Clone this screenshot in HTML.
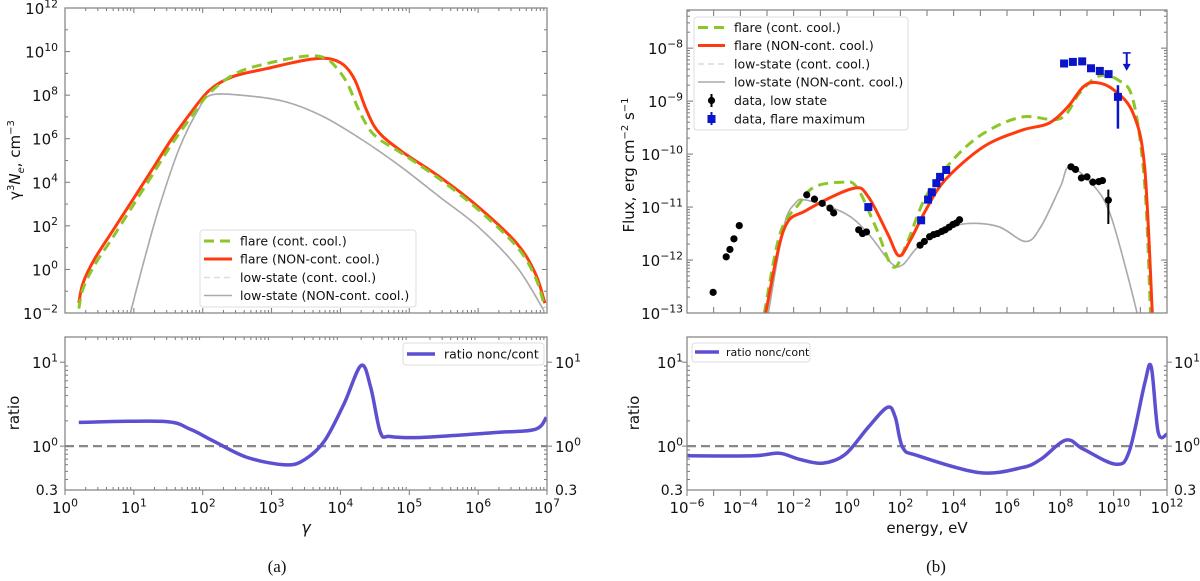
<!DOCTYPE html>
<html><head><meta charset="utf-8">
<style>
html,body{margin:0;padding:0;background:#fff;}
svg{display:block;font-family:"DejaVu Sans","Liberation Sans",sans-serif;}
</style></head>
<body>
<svg id="fig" width="1200" height="581" viewBox="0 0 1200 581" xmlns="http://www.w3.org/2000/svg">
<defs>
<clipPath id="cLT"><rect x="65" y="8" width="482" height="305"/></clipPath>
<clipPath id="cLB"><rect x="65" y="337" width="482" height="153"/></clipPath>
<clipPath id="cRT"><rect x="687" y="10" width="480" height="303"/></clipPath>
<clipPath id="cRB"><rect x="687" y="337" width="480" height="153"/></clipPath>
</defs>
<g id="layer"></g>
</svg>
<script>
// ---------- DATA (log10 values) ----------
// Left top: electron spectra, x = log10(gamma), y = log10(gamma^3 Ne)
const ltRedX = [0.2,0.26,0.42,0.70,0.98,1.26,1.54,1.82,2.1,2.43,2.93,3.49,3.82,4.05,4.21,4.38,4.55,4.88,5.44,6.0,6.56,6.83,6.97];
const ltRedY = [-1.55,-0.64,0.43,1.81,3.18,4.56,5.94,7.16,8.23,8.84,9.22,9.61,9.68,9.38,8.69,7.3,6.32,5.44,4.25,2.88,1.2,-0.18,-1.55];
const ltGreenX = [0.2,0.26,0.42,0.70,0.98,1.26,1.54,1.82,2.1,2.48,2.93,3.49,3.77,3.93,4.1,4.27,4.43,4.6,4.88,5.44,6.0,6.56,6.83,6.97];
const ltGreenY = [-1.8,-0.9,0.15,1.5,2.9,4.3,5.7,6.95,8.1,9.0,9.45,9.79,9.72,9.3,8.54,7.3,6.39,5.9,5.35,4.15,2.75,1.05,-0.35,-1.75];
const ltGrayX = [0.95,1.15,1.37,1.65,1.93,2.12,2.65,3.21,3.76,4.32,4.88,5.44,6.0,6.56,6.95];
const ltGrayY = [-2,0.43,2.88,5.48,7.3,8.0,7.97,7.69,7.0,5.94,4.71,3.33,1.96,0.12,-1.86];
// Left bottom: ratio, y = log10(ratio)
const lbX = [0.2,1.43,1.82,2.15,2.65,3.21,3.49,3.77,4.05,4.30,4.44,4.58,4.72,5.16,6.28,6.83,6.99];
const lbY = [0.283,0.294,0.2,0.063,-0.136,-0.224,-0.156,0.063,0.5,0.96,0.70,0.163,0.115,0.103,0.163,0.2,0.342];
// Right top: SED, x = log10(E/eV), y = log10(flux)
const rtRedX = [-3.05,-2.37,-1.51,0.22,0.79,1.52,1.95,2.38,2.95,3.68,5.12,6.56,7.56,8.28,8.86,9.36,10.01,10.73,11.16,11.45];
const rtRedY = [-13,-11.43,-11.06,-10.65,-10.80,-11.5,-11.92,-11.62,-11.06,-10.49,-9.86,-9.55,-9.42,-9.11,-8.73,-8.65,-8.79,-9.23,-10.24,-13];
const rtGreenX = [-3.1,-2.51,-1.8,-1.22,-0.21,0.36,1.08,1.73,2.24,2.95,3.97,5.12,6.56,8.0,8.72,9.44,10.16,10.73,11.16,11.38];
const rtGreenY = [-13,-11.5,-10.94,-10.62,-10.53,-10.62,-11.38,-12.13,-11.69,-10.81,-10.11,-9.61,-9.3,-9.33,-8.85,-8.53,-8.6,-8.98,-10.55,-13];
const rtGrayX = [-2.95,-2.37,-1.94,-1.51,-0.07,0.79,1.66,2.09,2.67,3.68,4.54,5.69,6.7,7.27,8.0,8.36,9.29,9.86,10.44,10.88];
const rtGrayY = [-13,-11.37,-10.93,-10.87,-11.12,-11.5,-12.06,-12.09,-11.75,-11.43,-11.31,-11.37,-11.65,-11.37,-10.62,-10.24,-10.62,-11.12,-12.13,-13];
const lowDataX = [-5.02,-4.53,-4.39,-4.24,-4.04,-1.51,-1.22,-0.93,-0.64,-0.50,0.44,0.58,0.73,2.74,2.9,3.1,3.25,3.39,3.55,3.68,3.83,3.97,4.1,4.22,8.4,8.57,8.79,9.0,9.22,9.44,9.58];
const lowDataY = [-12.61,-11.94,-11.80,-11.60,-11.35,-10.77,-10.85,-10.93,-11.02,-11.11,-11.43,-11.5,-11.47,-11.72,-11.65,-11.56,-11.52,-11.5,-11.46,-11.43,-11.38,-11.33,-11.3,-11.24,-10.24,-10.29,-10.45,-10.43,-10.53,-10.52,-10.5];
const lowErrX = [9.8];
const lowErrY = [-10.87];
const lowErrLo = [-11.32];
const lowErrHi = [-10.67];
const flareDataX = [0.8,2.78,3.04,3.18,3.35,3.49,3.72,8.14,8.47,8.82,9.15,9.48,9.81];
const flareDataY = [-11.0,-11.25,-10.86,-10.72,-10.55,-10.43,-10.3,-8.29,-8.26,-8.25,-8.38,-8.43,-8.49];
const flareErrX = [10.16];
const flareErrY = [-8.92];
const flareErrLo = [-9.52];
const flareErrHi = [-8.70];
const ulX = [10.49];
const ulY = [-8.09];
// Right bottom ratio
const rbX = [-6,-3.52,-2.54,-1.8,-0.93,-0.07,0.79,1.52,1.81,2.09,2.67,4.97,6.56,7.27,8.21,8.86,10.08,10.59,11.16,11.41,11.67,12.0];
const rbY = [-0.116,-0.116,-0.084,-0.156,-0.203,-0.1,0.223,0.463,0.343,-0.017,-0.116,-0.316,-0.256,-0.156,0.072,-0.036,-0.215,-0.056,0.742,0.94,0.163,0.143];
// tick labels
const ltXTicks = [0,1,2,3,4,5,6,7];
const ltYTicks = [-2,0,2,4,6,8,10,12];
const rtXTicks = [-6,-4,-2,0,2,4,6,8,10,12];
const rtYTicks = [-13,-12,-11,-10,-9,-8];

// ---------- helpers ----------
const NS = "http://www.w3.org/2000/svg";
const layer = document.getElementById('layer');
function el(tag, attrs, parent){
  const e = document.createElementNS(NS, tag);
  for (const k in attrs) e.setAttribute(k, attrs[k]);
  (parent||layer).appendChild(e);
  return e;
}
function lin(d0,d1,r0,r1){ return v => r0 + (v-d0)/(d1-d0)*(r1-r0); }
const P = {
  LT:{x:lin(0,7,65,547), y:lin(-2,12,313,8), x0:65,x1:547,y0:8,y1:313},
  LB:{x:lin(0,7,65,547), y:lin(Math.log10(0.3),1.3,490,337), x0:65,x1:547,y0:337,y1:490},
  RT:{x:lin(-6,12,687,1167), y:lin(-13,-7.28,313,10), x0:687,x1:1167,y0:10,y1:313},
  RB:{x:lin(-6,12,687,1167), y:lin(Math.log10(0.3),1.3,490,337), x0:687,x1:1167,y0:337,y1:490}
};
function smoothPath(xs, ys, p){
  const pts = xs.map((x,i)=>[p.x(x), p.y(ys[i])]);
  let d = `M${pts[0][0].toFixed(1)},${pts[0][1].toFixed(1)}`;
  for (let i=0;i<pts.length-1;i++){
    const p0 = pts[i-1]||pts[i], p1=pts[i], p2=pts[i+1], p3=pts[i+2]||pts[i+1];
    const c1=[p1[0]+(p2[0]-p0[0])/6, p1[1]+(p2[1]-p0[1])/6];
    const c2=[p2[0]-(p3[0]-p1[0])/6, p2[1]-(p3[1]-p1[1])/6];
    d += ` C${c1[0].toFixed(1)},${c1[1].toFixed(1)} ${c2[0].toFixed(1)},${c2[1].toFixed(1)} ${p2[0].toFixed(1)},${p2[1].toFixed(1)}`;
  }
  return d;
}
function supLabel(x, y, base, exp, anchor, size, parent){
  const t = el('text', {x:x, y:y, 'text-anchor':anchor, 'font-size':size, fill:'#111'}, parent);
  t.appendChild(document.createTextNode(base));
  if (exp!==null){
    const s = el('tspan', {dy:-size*0.45, 'font-size':size*0.72}, t);
    s.textContent = exp;
  }
  return t;
}
function fmtExp(v){ return (v<0?'\u2212':'') + Math.abs(v); }
function logMinorTicks(lo, hi){ const r=[]; for(let d=Math.floor(lo); d<hi; d++){ for(let m=2;m<=9;m++){ const v=d+Math.log10(m); if(v>lo&&v<hi) r.push(v);} } return r; }

// ---------- frames / axes ----------
function frame(p, name){
  const r = el('rect', {x:p.x0, y:p.y0, width:p.x1-p.x0, height:p.y1-p.y0, fill:'none', stroke:'#888', 'stroke-width':1.3});
  
  
}
function tick(x1,y1,x2,y2,g){ el('line',{x1:x1,y1:y1,x2:x2,y2:y2,stroke:'#777','stroke-width':1},g); }

// Left top axes
(function(){
  const p=P.LT;
  const g=el('g',{});  
  for(let v=0; v<=7; v++){ const x=p.x(v); tick(x,p.y1,x,p.y1-5,g); tick(x,p.y0,x,p.y0+5,g); }
  logMinorTicks(0,7).forEach(v=>{ const x=p.x(v); tick(x,p.y1,x,p.y1-3,g); tick(x,p.y0,x,p.y0+3,g); });
  for(let v=-2; v<=12; v++){ const y=p.y(v); const L=(v%2===0)?5:3; tick(p.x0,y,p.x0+L,y,g); tick(p.x1,y,p.x1-L,y,g); }
  ltYTicks.forEach(v=>{ const t=supLabel(58, p.y(v)+6, '10', fmtExp(v), 'end', 15, g);
      });
  const yt = el('text',{x:0,y:0,'font-size':15,'text-anchor':'middle',transform:'translate(20,160) rotate(-90)',fill:'#111'});
   
  yt.appendChild(document.createTextNode('\u03B3'));
  const s1=el('tspan',{dy:-6,'font-size':10},yt); s1.textContent='3';
  const s2=el('tspan',{dy:6,'font-style':'italic'},yt); s2.textContent='N';
  const s3=el('tspan',{dy:4,'font-size':10,'font-style':'italic'},yt); s3.textContent='e';
  const s4=el('tspan',{dy:-4},yt); s4.textContent=', cm';
  const s5=el('tspan',{dy:-6,'font-size':10},yt); s5.textContent='\u22123';
})();
// Left bottom axes
(function(){
  const p=P.LB;
  const g=el('g',{});  
  for(let v=0; v<=7; v++){ const x=p.x(v); tick(x,p.y1,x,p.y1+5,g); }
  logMinorTicks(0,7).forEach(v=>{ const x=p.x(v); tick(x,p.y1,x,p.y1-3,g); tick(x,p.y0,x,p.y0+3,g); });
  [0,1].forEach(v=>{ const y=p.y(v); tick(p.x0,y,p.x0-5,y,g); tick(p.x1,y,p.x1+5,y,g); });
  logMinorTicks(Math.log10(0.3),1.3).forEach(v=>{ const y=p.y(v); tick(p.x0,y,p.x0+3,y,g); tick(p.x1,y,p.x1-3,y,g); });
  ltXTicks.forEach(v=>{ const t=supLabel(p.x(v), 513, '10', String(v), 'middle', 15, g);
      });
  [[1,'10','1'],[0,'10','0']].forEach(a=>{ supLabel(58,p.y(a[0])+6,a[1],a[2],'end',15,g); supLabel(555,p.y(a[0])+6,a[1],a[2],'start',15,g); });
  el('text',{x:58,y:p.y1+5,'text-anchor':'end','font-size':14,fill:'#111'},g).textContent='0.3';
  el('text',{x:555,y:p.y1+5,'text-anchor':'start','font-size':14,fill:'#111'},g).textContent='0.3';
  const yt=el('text',{x:0,y:0,'font-size':15,'text-anchor':'middle',transform:'translate(19,413) rotate(-90)',fill:'#111'});
  yt.textContent='ratio';  
  const xt=el('text',{x:306,y:533,'font-size':16,'text-anchor':'middle','font-style':'italic',fill:'#111'});
  xt.textContent='\u03B3';  
  const cap=el('text',{x:277,y:572,'font-size':17,'text-anchor':'middle','font-family':'Liberation Serif, serif',fill:'#111'});
  cap.textContent='(a)';  
})();
// Right top axes
(function(){
  const p=P.RT;
  const g=el('g',{});  
  for(let v=-6; v<=12; v++){ const x=p.x(v); tick(x,p.y1,x,p.y1-6,g); tick(x,p.y0,x,p.y0+6,g); }
  for(let v=-13; v<=-8; v++){ const y=p.y(v); tick(p.x0,y,p.x0+6,y,g); tick(p.x1,y,p.x1-6,y,g); }
  logMinorTicks(-13,-7.28).forEach(v=>{ const y=p.y(v); tick(p.x0,y,p.x0+3,y,g); tick(p.x1,y,p.x1-3,y,g); });
  rtYTicks.forEach(v=>{ const t=supLabel(683, p.y(v)+6, '10', fmtExp(v), 'end', 15, g);
      });
  const yt=el('text',{x:0,y:0,'font-size':15,'text-anchor':'middle',transform:'translate(634,165) rotate(-90)',fill:'#111'});
   
  yt.appendChild(document.createTextNode('Flux, erg cm'));
  const a=el('tspan',{dy:-6,'font-size':10},yt); a.textContent='\u22122';
  const b=el('tspan',{dy:6},yt); b.textContent=' s';
  const c=el('tspan',{dy:-6,'font-size':10},yt); c.textContent='\u22121';
})();
// Right bottom axes
(function(){
  const p=P.RB;
  const g=el('g',{});  
  for(let v=-6; v<=12; v++){ const x=p.x(v); tick(x,p.y1,x,p.y1+6,g); }
  [0,1].forEach(v=>{ const y=p.y(v); tick(p.x0,y,p.x0-5,y,g); tick(p.x1,y,p.x1+5,y,g); });
  logMinorTicks(Math.log10(0.3),1.3).forEach(v=>{ const y=p.y(v); tick(p.x0,y,p.x0+3,y,g); tick(p.x1,y,p.x1-3,y,g); });
  rtXTicks.forEach(v=>{ const t=supLabel(p.x(v), 513, '10', fmtExp(v), 'middle', 15, g);
      });
  [[1,'10','1'],[0,'10','0']].forEach(a=>{ supLabel(683,p.y(a[0])+6,a[1],a[2],'end',15,g); supLabel(1174,p.y(a[0])+6,a[1],a[2],'start',15,g); });
  el('text',{x:683,y:p.y1+5,'text-anchor':'end','font-size':14,fill:'#111'},g).textContent='0.3';
  el('text',{x:1174,y:p.y1+5,'text-anchor':'start','font-size':14,fill:'#111'},g).textContent='0.3';
  const yt=el('text',{x:0,y:0,'font-size':15,'text-anchor':'middle',transform:'translate(639,413) rotate(-90)',fill:'#111'});
  yt.textContent='ratio';  
  const xt=el('text',{x:927,y:533,'font-size':15,'text-anchor':'middle',fill:'#111'});
  xt.textContent='energy, eV';  
  const cap=el('text',{x:936,y:572,'font-size':17,'text-anchor':'middle','font-family':'Liberation Serif, serif',fill:'#111'});
  cap.textContent='(b)';  
})();

// ---------- series ----------
function series(xs, ys, p, clip, style, name){
  const path = el('path', Object.assign({d:smoothPath(xs,ys,p), fill:'none', 'clip-path':`url(#${clip})`, 'stroke-linejoin':'round'}, style));
  
  
  return path;
}
const GREEN={stroke:'#8cc629','stroke-width':3,'stroke-dasharray':'10,6'};
const RED={stroke:'#ff3a0f','stroke-width':3};
const GRAY={stroke:'#aaaaaa','stroke-width':1.6};
const LGRAY={stroke:'#dcdcdc','stroke-width':1.6,'stroke-dasharray':'6,4'};
const PURPLE={stroke:'#5c4fd0','stroke-width':3.5};

series(ltGrayX, ltGrayY, P.LT, 'cLT', LGRAY, 'low-state-cont-curve');
series(ltGrayX, ltGrayY, P.LT, 'cLT', GRAY, 'low-state-noncont-curve');
series(ltRedX, ltRedY, P.LT, 'cLT', RED, 'flare-noncont-curve');
series(ltGreenX, ltGreenY, P.LT, 'cLT', GREEN, 'flare-cont-curve');

// ratio reference lines
[P.LB,P.RB].forEach(p=>{ const l=el('line',{x1:p.x0,x2:p.x1,y1:p.y(0),y2:p.y(0),stroke:'#888','stroke-width':2.2,'stroke-dasharray':'9,5'});
    });
series(lbX, lbY, P.LB, 'cLB', PURPLE, 'ratio-curve-left');
series(rbX, rbY, P.RB, 'cRB', PURPLE, 'ratio-curve-right');

series(rtGrayX, rtGrayY, P.RT, 'cRT', LGRAY, 'low-state-cont-sed');
series(rtGrayX, rtGrayY, P.RT, 'cRT', GRAY, 'low-state-noncont-sed');
series(rtGreenX, rtGreenY, P.RT, 'cRT', GREEN, 'flare-cont-sed');
series(rtRedX, rtRedY, P.RT, 'cRT', RED, 'flare-noncont-sed');

// data points
lowDataX.forEach((x,i)=>{
  const c=el('circle',{cx:P.RT.x(x), cy:P.RT.y(lowDataY[i]), r:3.6, fill:'#000'});
   
});
lowErrX.forEach((x,i)=>{
  const X=P.RT.x(x);
  const l=el('line',{x1:X,x2:X,y1:P.RT.y(lowErrLo[i]),y2:P.RT.y(lowErrHi[i]),stroke:'#000','stroke-width':2});
   
  const c=el('circle',{cx:X, cy:P.RT.y(lowErrY[i]), r:3.6, fill:'#000'});
   
});
flareDataX.forEach((x,i)=>{
  const r=el('rect',{x:P.RT.x(x)-4, y:P.RT.y(flareDataY[i])-4, width:8, height:8, fill:'#0a14c8'});
   
});
flareErrX.forEach((x,i)=>{
  const X=P.RT.x(x);
  const l=el('line',{x1:X,x2:X,y1:P.RT.y(flareErrLo[i]),y2:P.RT.y(flareErrHi[i]),stroke:'#0a14c8','stroke-width':2.5});
   
  const r=el('rect',{x:X-4, y:P.RT.y(flareErrY[i])-4, width:8, height:8, fill:'#0a14c8'});
   
});
ulX.forEach((x,i)=>{
  const X=P.RT.x(x), Y=P.RT.y(ulY[i]);
  const g=el('g',{});  
  el('line',{x1:X-4,x2:X+4,y1:Y,y2:Y,stroke:'#0a14c8','stroke-width':1.5},g);
  el('line',{x1:X,x2:X,y1:Y,y2:Y+14,stroke:'#0a14c8','stroke-width':2},g);
  el('path',{d:`M${X-4},${Y+11} L${X+4},${Y+11} L${X},${Y+18} Z`,fill:'#0a14c8'},g);
});

// frames on top
frame(P.LT,'left-top-plot-frame'); frame(P.LB,'left-bottom-plot-frame'); frame(P.RT,'right-top-plot-frame'); frame(P.RB,'right-bottom-plot-frame');

// ---------- legends ----------
function legendBox(x,y,w,h,name){
  const r=el('rect',{x:x,y:y,width:w,height:h,rx:3,fill:'#fff','fill-opacity':0.85,stroke:'#ddd','stroke-width':1});
   
}
function legendLine(x1,x2,y,style,tx,label,name){
  const g=el('g',{});  
  el('line',Object.assign({x1:x1,x2:x2,y1:y,y2:y},style),g);
  el('text',{x:tx,y:y+4.5,'font-size':12.5,fill:'#111'},g).textContent=label;
}
legendBox(200,230,216,77,'left-top-legend');
legendLine(204,232,241,GREEN,240,'flare (cont. cool.)','legend-entry-flare-cont');
legendLine(204,232,259,RED,240,'flare (NON-cont. cool.)','legend-entry-flare-noncont');
legendLine(204,232,277.5,LGRAY,240,'low-state (cont. cool.)','legend-entry-low-cont');
legendLine(204,232,295.5,GRAY,240,'low-state (NON-cont. cool.)','legend-entry-low-noncont');

legendBox(694,17,214,113,'right-top-legend');
legendLine(698,725,27.5,GREEN,734,'flare (cont. cool.)','legend-entry-flare-cont');
legendLine(698,725,45.5,RED,734,'flare (NON-cont. cool.)','legend-entry-flare-noncont');
legendLine(698,725,64,LGRAY,734,'low-state (cont. cool.)','legend-entry-low-cont');
legendLine(698,725,82,GRAY,734,'low-state (NON-cont. cool.)','legend-entry-low-noncont');
(function(){
  let g=el('g',{});  
  el('line',{x1:711.5,x2:711.5,y1:94,y2:107,stroke:'#000','stroke-width':2},g);
  el('circle',{cx:711.5,cy:100.5,r:3.6,fill:'#000'},g);
  el('text',{x:734,y:105,'font-size':12.5,fill:'#111'},g).textContent='data, low state';
  g=el('g',{});  
  el('line',{x1:711.5,x2:711.5,y1:112,y2:125,stroke:'#0a14c8','stroke-width':2},g);
  el('rect',{x:707.5,y:115,width:8,height:8,fill:'#0a14c8'},g);
  el('text',{x:734,y:123.5,'font-size':12.5,fill:'#111'},g).textContent='data, flare maximum';
})();

legendBox(403,343,141,22,'left-ratio-legend');
legendLine(407,435,354,PURPLE,444,'ratio nonc/cont','legend-entry-ratio');
legendBox(692,343,118,19,'right-ratio-legend');
(function(){
  const g=el('g',{});  
  el('line',Object.assign({x1:695,x2:719,y1:352,y2:352},PURPLE),g);
  el('text',{x:726,y:356,'font-size':11,fill:'#111'},g).textContent='ratio nonc/cont';
})();
</script>
</body></html>
